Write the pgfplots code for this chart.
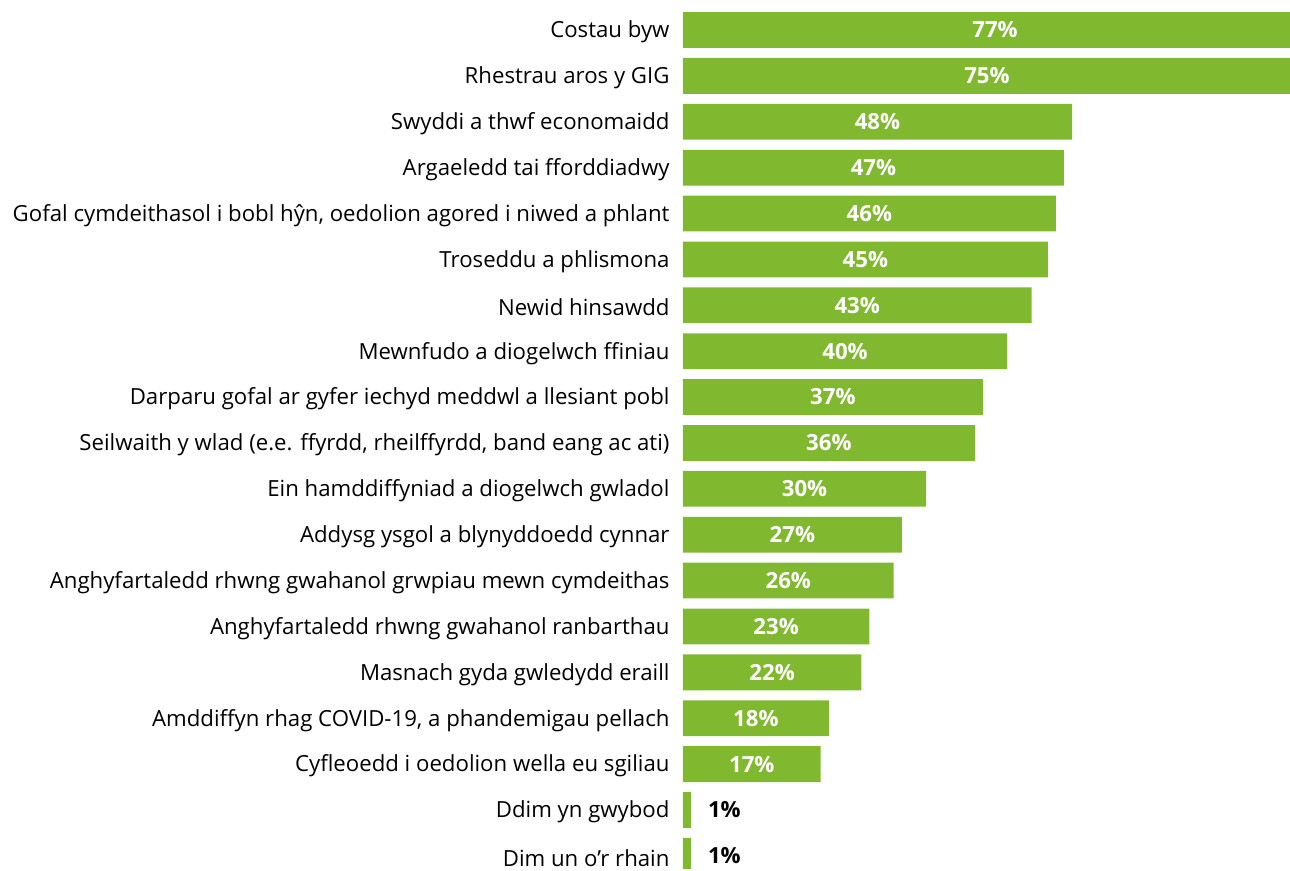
\documentclass[border=0pt]{standalone}
\usepackage{pgfplots}
\usepackage{pgfplotstable}
\pgfplotsset{compat=1.18}
\usepackage{fontspec}
\setmainfont{Open Sans}
\definecolor{grass}{RGB}{128,185,48}
\pgfplotstableread{
y v
0 77
1 75
2 48
3 47
4 46
5 45
6 43
7 40
8 37
9 36
10 30
11 27
12 26
13 23
14 22
15 18
16 17
}\bigdata
\pgfplotstableread{
y v
17 1
18 1
}\smalldata
\begin{document}
\begin{tikzpicture}
\begin{axis}[
  scale only axis,
  width=303.5pt, height=434.5pt,
  xmin=0, xmax=74.85,
  ymin=-0.654, ymax=18.283,
  y dir=reverse,
  axis line style={draw=none},
  major tick length=0pt,
  xtick=\empty,
  ytick={0,...,18},
  yticklabels={Costau byw, Rhestrau aros y GIG, Swyddi a thwf economaidd, Argaeledd tai fforddiadwy, {Gofal cymdeithasol i bobl hŷn, oedolion agored i niwed a phlant}, Troseddu a phlismona, Newid hinsawdd, Mewnfudo a diogelwch ffiniau, Darparu gofal ar gyfer iechyd meddwl a llesiant pobl, {Seilwaith y wlad (e.e. ffyrdd, rheilffyrdd, band eang ac ati)}, Ein hamddiffyniad a diogelwch gwladol, Addysg ysgol a blynyddoedd cynnar, Anghyfartaledd rhwng gwahanol grwpiau mewn cymdeithas, Anghyfartaledd rhwng gwahanol ranbarthau, Masnach gyda gwledydd eraill, {Amddiffyn rhag COVID-19, a phandemigau pellach}, Cyfleoedd i oedolion wella eu sgiliau, Ddim yn gwybod, Dim un o’r rhain},
  yticklabel style={font=\fontsize{11.1}{13}\selectfont, inner sep=0pt, xshift=-6.5pt, yshift=-1pt},
  xbar, bar width=0.78, bar shift=0pt,
]
\addplot[fill=grass, draw=none] table[x=v, y=y] {\bigdata};
\addplot[fill=grass, draw=none] table[x=v, y=y] {\smalldata};
\addplot[draw=none, mark=none, xbar=false, nodes near coords={\pgfplotspointmeta\%},
  nodes near coords align=center,
  every node near coord/.append style={white, font=\fontsize{11.1}{13}\selectfont\bfseries, anchor=center},
  point meta=explicit symbolic] table[x expr=\thisrow{v}/2, y=y, meta=v] {\bigdata};
\addplot[draw=none, mark=none, xbar=false, nodes near coords={\pgfplotspointmeta\%},
  every node near coord/.append style={black, font=\fontsize{11.1}{13}\selectfont\bfseries, anchor=west, xshift=5pt},
  point meta=explicit symbolic] table[x=v, y=y, meta=v] {\smalldata};
\end{axis}
\path ([xshift=-341.5pt]current axis.south west) rectangle (current axis.north east);
\end{tikzpicture}
\end{document}
